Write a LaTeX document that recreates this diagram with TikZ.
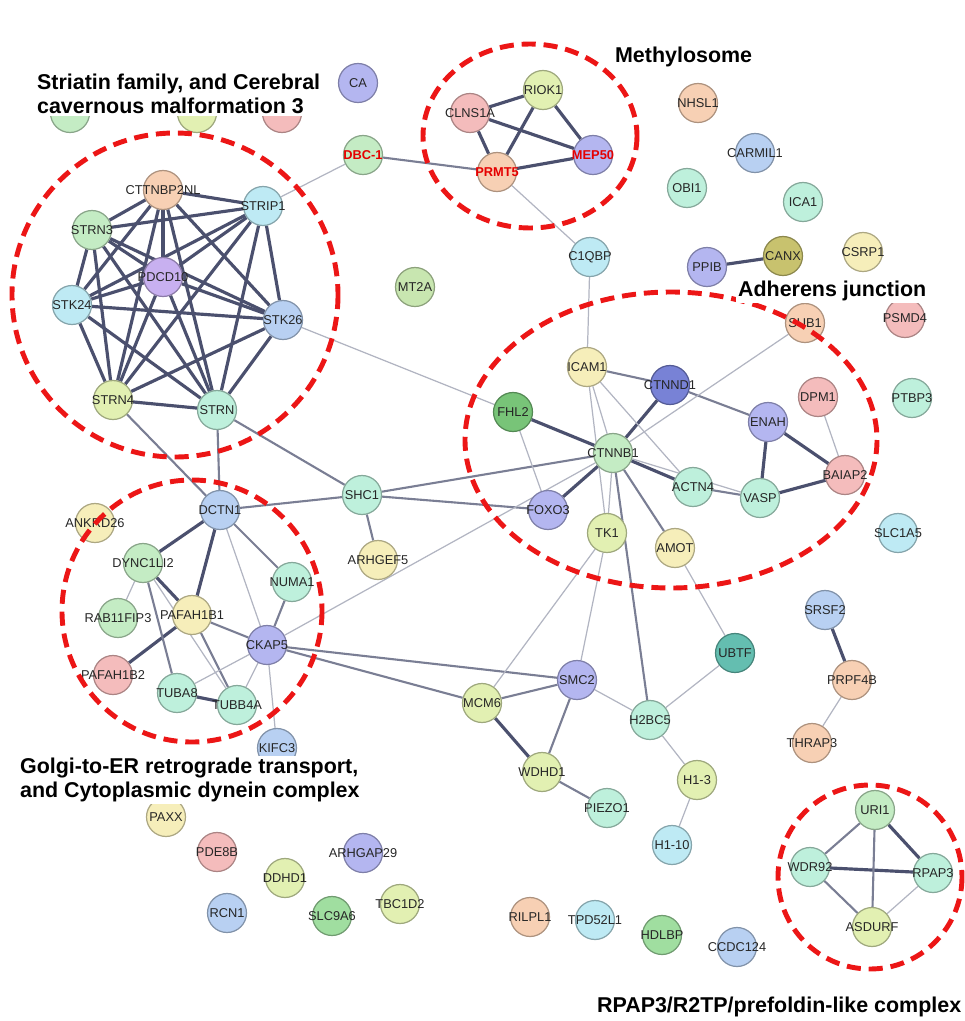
\documentclass[tikz,border=0pt]{standalone}
\usepackage{fontspec}
\setmainfont{Liberation Sans}
\usepackage{tikz}
\usetikzlibrary{backgrounds}

\definecolor{peach}{RGB}{247,208,180}
\definecolor{cyanp}{RGB}{190,234,244}
\definecolor{greenp}{RGB}{196,236,196}
\definecolor{mint}{RGB}{190,240,220}
\definecolor{purp}{RGB}{200,176,240}
\definecolor{bluep}{RGB}{184,208,242}
\definecolor{perip}{RGB}{180,182,240}
\definecolor{yelgr}{RGB}{226,240,178}
\definecolor{pinkp}{RGB}{244,188,188}
\definecolor{yellowp}{RGB}{246,238,186}
\definecolor{olive}{RGB}{200,194,110}
\definecolor{dblue}{RGB}{120,130,214}
\definecolor{dgreen}{RGB}{120,196,120}
\definecolor{teal}{RGB}{100,190,176}
\definecolor{lgreen}{RGB}{200,230,176}
\definecolor{mgreen}{RGB}{160,222,160}
\definecolor{edgehi}{RGB}{75,80,110}
\definecolor{edgemid}{RGB}{122,126,148}
\definecolor{edgelo}{RGB}{178,181,194}
\definecolor{grpred}{RGB}{236,22,22}

\newcommand\protfont{\fontsize{7.3}{8}\selectfont}
\newcommand\grpfont{\fontsize{12.2}{13.7}\selectfont\bfseries}
\newcommand\plabel[1]{\makebox[0pt]{#1}}

\begin{document}
\begin{tikzpicture}[x=0.02cm,y=-0.02cm,
  prot/.style={circle,minimum size=0.78cm,inner sep=0pt,fill=#1,draw=#1!70!black,
               line width=0.7pt,font=\protfont,text=black!85},
  hit/.style={text=red!90!black,font=\protfont\bfseries},
  strong/.style={draw=edgehi,line width=1.8pt},
  medium/.style={draw=edgemid,line width=1.2pt},
  weak/.style={draw=edgelo,line width=0.7pt},
  grp/.style={draw=grpred,line width=2.8pt,dash pattern=on 8pt off 4.5pt},
  grptitle/.style={font=\grpfont,align=left,inner sep=1pt,fill=white,anchor=west}]
 \useasboundingbox (0,0) rectangle (964,1021);

 % proteins
 \foreach \n/\x/\y/\c/\t in {
   hA/70/113/greenp/{}, hB/197/113/yelgr/{}, hC/282/113/pinkp/{}, hD/358/83/perip/CA,
   cttn/163/190/peach/CTTNBP2NL, strip1/263/206/cyanp/STRIP1, strn3/92/230/greenp/STRN3,
   pdcd10/163/277/purp/PDCD10, stk24/72/305/cyanp/STK24, stk26/283/320/bluep/STK26,
   strn4/113/400/yelgr/STRN4, strn/217/410/mint/STRN, mt2a/415/287/lgreen/MT2A,
   clns1a/470/113/pinkp/CLNS1A, riok1/543/90/yelgr/RIOK1,
   c1qbp/590/257/cyanp/C1QBP, nhsl1/698/103/peach/NHSL1, carmil1/755/153/bluep/CARMIL1,
   obi1/687/188/mint/OBI1, ica1/803/202/mint/ICA1, ppib/707/267/perip/PPIB,
   canx/783/256/olive/CANX, csrp1/863/252/yellowp/CSRP1, sub1/805/323/peach/SUB1,
   psmd4/905/318/pinkp/PSMD4, ptbp3/912/398/mint/PTBP3, dpm1/818/397/pinkp/DPM1,
   enah/768/422/perip/ENAH, icam1/587/367/yellowp/ICAM1, ctnnd1/670/385/dblue/CTNND1,
   fhl2/513/412/dgreen/FHL2, ctnnb1/613/453/greenp/CTNNB1, actn4/693/487/mint/ACTN4,
   vasp/760/498/mint/VASP, baiap2/845/475/pinkp/BAIAP2, foxo3/548/510/perip/FOXO3,
   tk1/607/533/yelgr/TK1, amot/675/548/yellowp/AMOT, slc1a5/898/533/cyanp/SLC1A5,
   srsf2/825/610/bluep/SRSF2, prpf4b/852/680/peach/PRPF4B, thrap3/812/743/peach/THRAP3,
   ubtf/735/653/teal/UBTF, smc2/577/680/perip/SMC2, mcm6/482/703/yelgr/MCM6,
   h2bc5/650/720/mint/H2BC5, wdhd1/542/772/yelgr/WDHD1, h13/697/780/yelgr/H1-3,
   piezo1/607/808/mint/PIEZO1, h110/672/845/cyanp/H1-10,
   dctn1/220/510/bluep/DCTN1, ankrd26/95/523/yellowp/ANKRD26, dync/143/563/greenp/DYNC1LI2,
   rab11/118/618/greenp/RAB11FIP3, pafah1b1/192/615/yellowp/PAFAH1B1, numa1/292/582/mint/NUMA1,
   ckap5/267/645/perip/CKAP5, pafah1b2/113/675/pinkp/PAFAH1B2, tuba8/177/693/mint/TUBA8,
   tubb4a/237/705/mint/TUBB4A, kifc3/277/748/bluep/KIFC3, shc1/362/495/mint/SHC1,
   arhgef5/378/560/yellowp/ARHGEF5,
   paxx/166/817/yellowp/PAXX, pde8b/217/852/pinkp/PDE8B, arhgap29/363/853/perip/ARHGAP29,
   ddhd1/285/878/yelgr/DDHD1, rcn1/227/913/bluep/RCN1, slc9a6/332/916/mgreen/SLC9A6,
   tbc1d2/400/904/yelgr/TBC1D2, rilpl1/530/917/peach/RILPL1, tpd52l1/595/920/cyanp/TPD52L1,
   hdlbp/662/935/mgreen/HDLBP, ccdc124/737/947/bluep/CCDC124,
   uri1/875/810/greenp/URI1, wdr92/810/867/mint/WDR92, rpap3/933/873/mint/RPAP3,
   asdurf/872/927/yelgr/ASDURF}
   \node[prot=\c] (\n) at (\x,\y) {\plabel{\t}};
 \node[prot=greenp,hit] (dbc1) at (363,155) {\plabel{DBC-1}};
 \node[prot=perip,hit] (mep50) at (593,155) {\plabel{MEP50}};
 \node[prot=peach,hit] (prmt5) at (497,172) {\plabel{PRMT5}};

 % interactions
 \begin{pgfonlayer}{background}
  \foreach \a [count=\i] in {cttn,strip1,strn3,pdcd10,stk24,stk26,strn4,strn}
   \foreach \b [count=\j] in {cttn,strip1,strn3,pdcd10,stk24,stk26,strn4,strn}
    {\ifnum\j>\i \draw[strong] (\a) -- (\b);\fi}
  \foreach \a/\b in {clns1a/riok1,clns1a/mep50,clns1a/prmt5,riok1/prmt5,riok1/mep50,
     prmt5/mep50,ppib/canx,ctnnb1/fhl2,ctnnb1/ctnnd1,ctnnb1/foxo3,ctnnb1/actn4,enah/vasp,
     enah/baiap2,vasp/baiap2,mcm6/wdhd1,dctn1/dync,dctn1/pafah1b1,dync/pafah1b1,
     pafah1b1/pafah1b2,tuba8/tubb4a,wdr92/rpap3,uri1/rpap3,srsf2/prpf4b}
   \draw[strong] (\a) -- (\b);
  \foreach \a/\b in {dbc1/prmt5,ctnnb1/amot,ctnnd1/enah,icam1/ctnnd1,actn4/vasp,
     smc2/mcm6,smc2/wdhd1,wdhd1/piezo1,dctn1/numa1,strn/dctn1,strn/shc1,shc1/dctn1,
     shc1/arhgef5,shc1/ctnnb1,shc1/foxo3,ctnnb1/h2bc5,dync/tuba8,pafah1b1/ckap5,
     pafah1b1/tubb4a,numa1/ckap5,ckap5/mcm6,ckap5/smc2,uri1/wdr92,uri1/asdurf,
     wdr92/asdurf,strn4/dctn1}
   \draw[medium] (\a) -- (\b);
  \foreach \a/\b in {strip1/dbc1,prmt5/c1qbp,c1qbp/icam1,stk26/fhl2,fhl2/foxo3,
     ckap5/ctnnb1,icam1/ctnnb1,icam1/tk1,icam1/actn4,ctnnb1/tk1,ctnnb1/vasp,ctnnb1/sub1,
     dpm1/baiap2,tk1/mcm6,tk1/smc2,amot/ubtf,ubtf/h2bc5,smc2/h2bc5,h2bc5/h13,h13/h110,
     dctn1/ckap5,dync/rab11,dync/tubb4a,tuba8/ckap5,tubb4a/ckap5,ckap5/kifc3,
     rpap3/asdurf,prpf4b/thrap3}
   \draw[weak] (\a) -- (\b);
 \end{pgfonlayer}

 % functional groups
 \draw[grp] (175,295) ellipse (163 and 162);
 \draw[grp] (530,136) ellipse (107 and 92);
 \draw[grp] (671,440) ellipse (206 and 148);
 \draw[grp] (192,611) ellipse (130 and 131);
 \draw[grp] (870,877) circle (92);
 \node[grptitle] (tstri) at (35,94) {Striatin family, and Cerebral\\cavernous malformation 3};
 \node[grptitle] (tmeth) at (613,57) {Methylosome};
 \node[grptitle] (tadh) at (736,291) {Adherens junction};
 \node[grptitle] (tgolgi) at (18,780) {Golgi-to-ER retrograde transport,\\and Cytoplasmic dynein complex};
 \node[grptitle] (trpap) at (595,1007) {RPAP3/R2TP/prefoldin-like complex};
\end{tikzpicture}
\end{document}
